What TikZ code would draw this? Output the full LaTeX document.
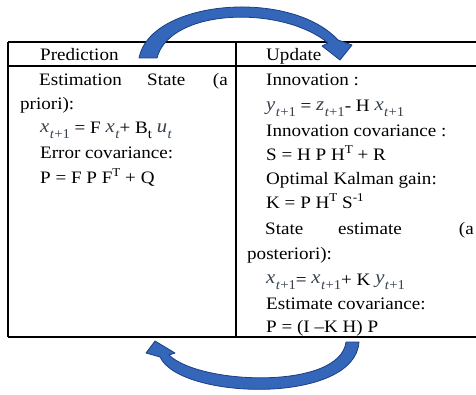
\documentclass[tikz,border=0pt]{standalone}
\usepackage{fontspec}
\setmainfont{Liberation Serif}[FakeStretch=1.09]
\definecolor{varc}{RGB}{55,65,80}
\definecolor{arrfill}{RGB}{52,102,186}
\definecolor{arrline}{RGB}{30,62,130}
\newcommand{\sbx}[1]{\raisebox{-0.28em}{\fontsize{13.5}{14}\selectfont #1}}
\newcommand{\spx}[1]{\raisebox{0.45em}{\fontsize{12}{13}\selectfont #1}}
\newcommand{\vv}[2]{{\color{varc}\raisebox{0.1em}{\fontsize{19}{20}\selectfont\textit{#1}}\kern0.5pt\sbx{#2}}}
\newcommand{\tp}{\textit{t}+1}
\begin{document}
\begin{tikzpicture}[x=1pt,y=-1pt,
  txt/.style={anchor=base west,inner sep=0pt,font=\fontsize{17.5}{20}\selectfont},
  txte/.style={anchor=base east,inner sep=0pt,font=\fontsize{17.5}{20}\selectfont},
  rule/.style={line width=1.1pt,black},
  blockarrow/.style={fill=arrfill,draw=arrline,line width=0.8pt,line join=round}]
\useasboundingbox (0,0) rectangle (476,395);
% table
\coordinate (tl) at (8,42);
\coordinate (tr) at (476,42);
\coordinate (hl) at (8,66);
\coordinate (hr) at (476,66);
\coordinate (bl) at (8,337);
\coordinate (br) at (476,337);
\coordinate (mt) at (236,42);
\coordinate (mb) at (236,337);
\draw[rule] (tl) -- (tr);
\draw[rule] (hl) -- (hr);
\draw[rule] (bl) -- (br);
\draw[rule] (tl) -- (bl);
\draw[rule] (mt) -- (mb);
% header
\node[txt] (pred) at (40,61) {Prediction};
\node[txt] (upd) at (266,61) {Update};
% left column
\node[txt] (l1a) at (39,86) {Estimation};
\node[txt] (l1b) at (147,86) {State};
\node[txte] (l1c) at (228,86) {(a};
\node[txt] (l2) at (20,110) {priori):};
\node[txt] (l3) at (40,134) {\vv{x}{\tp} = F \vv{x}{\textit{t}}+ B\sbx{t} \vv{u}{\textit{t}}};
\node[txt] (l4) at (40,159) {Error covariance:};
\node[txt] (l5) at (40,184) {P = F P F\spx{T} + Q};
% right column
\node[txt] (r1) at (266,86) {Innovation :};
\node[txt] (r2) at (266,112) {\vv{y}{\tp} = \vv{z}{\tp}- H \vv{x}{\tp}};
\node[txt] (r3) at (266,137) {Innovation covariance :};
\node[txt] (r4) at (266,161) {S = H P H\spx{T} + R};
\node[txt] (r5) at (266,185) {Optimal Kalman gain:};
\node[txt] (r6) at (266,209) {K = P H\spx{T} S\spx{-1}};
\node[txt] (r7a) at (265,234) {State};
\node[txt] (r7b) at (338,234) {estimate};
\node[txte] (r7c) at (474,234) {(a};
\node[txt] (r8) at (247,259) {posteriori):};
\node[txt] (r9) at (266,285) {\vv{x}{\tp}= \vv{x}{\tp}+ K \vv{y}{\tp}};
\node[txt] (r10) at (266,309) {Estimate covariance:};
\node[txt] (r11) at (266,332) {P = (I –K H) P};
% upper curved arrow (Prediction -> Update)
\draw[blockarrow] (139,58) .. controls (150,0) and (290,-12) .. (338,40)
  -- (352,45) -- (340,60) -- (322,46) -- (328,43)
  .. controls (282,5) and (170,8) .. (157,58) -- cycle;
% lower curved arrow (Update -> Prediction)
\draw[blockarrow] (359,342) .. controls (355,405) and (180,400) .. (160,357)
  -- (146,353) -- (155,341) -- (175,353) -- (169,355)
  .. controls (200,385) and (340,390) .. (346,342) -- cycle;
\end{tikzpicture}
\end{document}
